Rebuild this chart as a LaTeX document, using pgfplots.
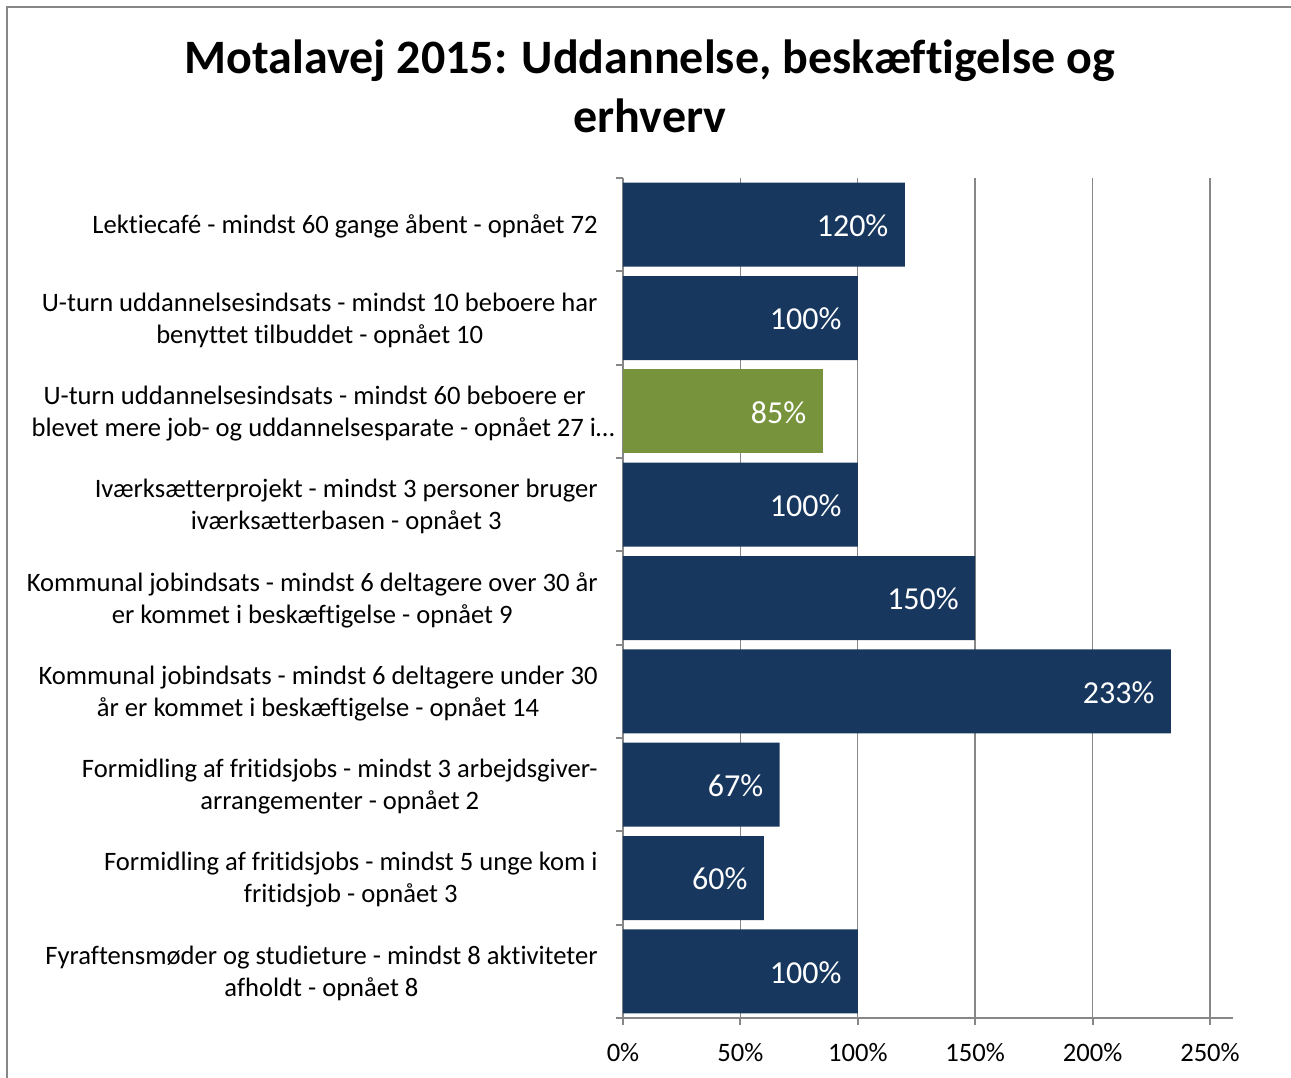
\documentclass[border=0pt]{standalone}
\usepackage{fontspec}
\setmainfont{Carlito}[Ligatures={NoCommon,NoContextual}]
\usepackage{pgfplots}
\pgfplotsset{compat=1.18}
\definecolor{navy}{HTML}{17375E}
\definecolor{olive}{HTML}{77933C}
\definecolor{axgray}{HTML}{878787}
\begin{document}
\begin{tikzpicture}
\useasboundingbox (0pt,0pt) rectangle (645.5pt,538.5pt);
\draw[axgray, line width=1pt] (3.5pt,-5pt) -- (3.5pt,535pt) -- (650pt,535pt);
\node[font=\bfseries\fontsize{24}{28.8}\selectfont, anchor=base, inner sep=0pt] at (325pt,501.5pt) {Motalavej 2015: Uddannelse, beskæftigelse og};
\node[font=\bfseries\fontsize{24}{28.8}\selectfont, anchor=base, inner sep=0pt] at (325pt,472pt) {erhverv};
\begin{axis}[
  at={(311.5pt,29.5pt)}, anchor=south west,
  scale only axis, width=305pt, height=420pt,
  xmin=0, xmax=259.8, ymin=-0.5, ymax=8.5,
  y dir=reverse,
  xbar, bar width=0.9, bar shift=0pt,
  axis x line*=bottom, axis y line*=left,
  axis line style={axgray, line width=1pt},
  tick align=outside,
  xtick={0,50,100,150,200,250},
  xticklabels={0\%,50\%,100\%,150\%,200\%,250\%},
  major tick length=3.5pt,
  minor tick length=3.5pt,
  x tick style={axgray, line width=1pt},
  xmajorgrids,
  grid style={axgray, line width=0.7pt},
  ytick={0,...,8},
  major y tick style={draw=none},
  minor ytick={-0.5,0.5,...,8.5},
  minor y tick style={axgray, line width=1pt},
  yticklabels={
    {Lektiecafé - mindst 60 gange åbent - opnået 72},
    {U-turn uddannelsesindsats - mindst 10 beboere har\\benyttet tilbuddet - opnået 10},
    {\makebox[283pt][l]{\hspace*{6pt}U-turn uddannelsesindsats - mindst 60 beboere er}\\\makebox[283pt][l]{blevet mere job- og uddannelsesparate - opnået 27 i…}},
    {Iværksætterprojekt - mindst 3 personer bruger\\iværksætterbasen - opnået 3},
    {Kommunal jobindsats - mindst 6 deltagere over 30 år\\er kommet i beskæftigelse - opnået 9},
    {Kommunal jobindsats - mindst 6 deltagere under 30\\år er kommet i beskæftigelse - opnået 14},
    {Formidling af fritidsjobs - mindst 3 arbejdsgiver-\\arrangementer - opnået 2},
    {Formidling af fritidsjobs - mindst 5 unge kom i\\fritidsjob - opnået 3},
    {Fyraftensmøder og studieture - mindst 8 aktiviteter\\afholdt - opnået 8}},
  yticklabel style={font=\fontsize{13.3}{16}\selectfont, align=center, anchor=east, inner sep=0pt, xshift=-9pt, yshift=-1pt},
  xticklabel style={font=\fontsize{13.3}{16}\selectfont, inner sep=0pt, anchor=north, yshift=-9pt},
  /pgf/number format/assume math mode=true,
  nodes near coords={\pgfmathprintnumber[fixed,precision=0]{\pgfplotspointmeta}\%},
  every node near coord/.append style={font=\fontsize{16}{19}\selectfont, text=white, anchor=east, inner sep=0pt, xshift=-8pt, yshift=-0.5pt},
]
\addplot[fill=navy, draw=none] coordinates {(120,0) (100,1) (100,3) (150,4) (233.33,5) (66.67,6) (60,7) (100,8)};
\addplot[fill=olive, draw=none] coordinates {(85,2)};
\end{axis}
\end{tikzpicture}
\end{document}
